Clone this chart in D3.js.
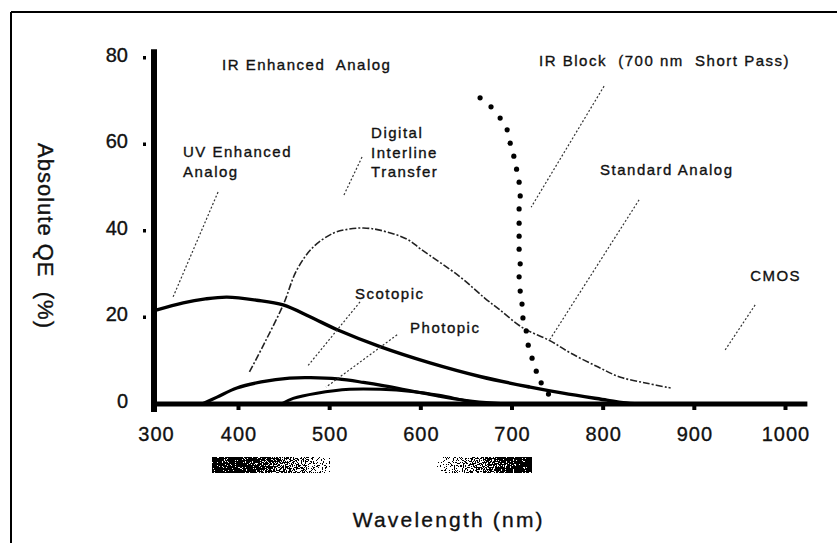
<!DOCTYPE html>
<html><head><meta charset="utf-8">
<script src="https://cdn.jsdelivr.net/npm/d3@7"></script>
<style>
body{margin:0;background:#fff}
svg{display:block}
text{font-family:"Liberation Sans",Arial,Helvetica,sans-serif;fill:#111;stroke:#111;stroke-width:0.35px}
</style>
</head><body>
<svg id="chart" width="837" height="543"></svg>
<script>
// ---------- data ----------
const xTickValues = [300, 400, 500, 600, 700, 800, 900, 1000];
const yTickValues = [0, 20, 40, 60, 80];

// UV Enhanced Analog (solid, broad)
const uvEnhanced = [[300,21.7],[333,23.4],[360,24.3],[386,24.7],[420,24.0],[449,22.9],[479,20.1],[509,17.1],[556,13.2],[610,9.5],[666,6.3],[720,3.9],[756,2.5],[804,0.9],[822,0.3],[840,0]];
// Digital Interline Transfer / Standard Analog (dash-dot hump)
const dashedHump = [[412,7.4],[429,14.3],[449,22.9],[464,31.0],[482,36.3],[504,39.5],[520,40.4],[537,40.7],[555,40.2],[585,38.1],[600,35.8],[643,29.4],[670,24.5],[687,21.7],[712,17.6],[742,14.6],[764,11.8],[794,8.6],[819,6.2],[848,4.8],[874,3.7]];
// Scotopic (solid small hump)
const scotopic = [[356,0],[374,1.6],[398,3.7],[425,5.1],[456,6.0],[479,6.1],[509,5.8],[537,5.0],[560,4.2],[590,3.0],[620,1.8],[650,0.8],[680,0.2],[700,0]];
// Photopic (solid smaller hump)
const photopic = [[447,0],[460,1.3],[486,2.5],[522,3.4],[556,3.4],[590,2.9],[620,2.0],[646,0.9],[668,0]];
// IR Block (700 nm short pass) dotted curve
const irBlock = [[665,70.8],[677,68.7],[687,66.1],[694.7,63.4],[698,60.3],[702,57.3],[705,54.3],[707.8,51.3],[709,48.1],[707.8,45.1],[707.8,41.8],[707.8,38.8],[707.8,35.8],[709,32.4],[707.8,29.4],[709,26.1],[711,23.1],[712,19.9],[715.6,16.9],[717.8,13.6],[722,10.6],[726.6,7.6],[732,4.9],[740,2.3]];

// annotation labels (anchor in wavelength / QE units)
const labels = [
  {lines:["IR Enhanced  Analog"], w:380, q:77.2},
  {lines:["UV Enhanced","Analog"], w:332.7, q:57.1},
  {lines:["Digital","Interline","Transfer"], w:545.4, q:61.5},
  {lines:["IR Block  (700 nm  Short Pass)"], w:729.7, q:78.2},
  {lines:["Standard Analog"], w:796.6, q:52.9},
  {lines:["CMOS"], w:961.2, q:28.4},
  {lines:["Scotopic"], w:527.8, q:24.3},
  {lines:["Photopic"], w:588.2, q:16.4}
];
// leader lines [w1,q1,w2,q2]
const leaders = [
  [375.2,49.0,320.6,24.7],
  [535.5,57.1,514.7,47.9],
  [801,73.5,721,45.5],
  [839.4,47.2,741.8,15.0],
  [966.7,22.9,933.8,12.5],
  [533.3,23.6,475.2,8.6],
  [574,16.0,496,3.9]
];
// spectral bands under axis [start,end] nm
const bands = [[368,500],[618,721]];

// ---------- scales ----------
const svg = d3.select("#chart");
const x = d3.scaleLinear().domain([300,400,1000]).range([156,238.5,785.5]);
const y = d3.scaleLinear().domain([0,80]).range([404,58]);

// frame
svg.append("line").attr("x1",11).attr("x2",11).attr("y1",12).attr("y2",543).attr("stroke","#000").attr("stroke-width",2);
svg.append("line").attr("x1",11).attr("x2",837).attr("y1",12).attr("y2",12).attr("stroke","#000").attr("stroke-width",2);

// gradients + dithering for bands
const defs = svg.append("defs");
const g1 = defs.append("linearGradient").attr("id","band0");
[[0,"#080808"],[0.3,"#222"],[0.55,"#555"],[0.8,"#999"],[1,"#e0e0e0"]].forEach(s=>g1.append("stop").attr("offset",s[0]).attr("stop-color",s[1]));
const g2 = defs.append("linearGradient").attr("id","band1");
[[0,"#e8e8e8"],[0.25,"#aaa"],[0.5,"#666"],[0.75,"#2a2a2a"],[1,"#050505"]].forEach(s=>g2.append("stop").attr("offset",s[0]).attr("stop-color",s[1]));
const f = defs.append("filter").attr("id","dither").attr("x",0).attr("y",0).attr("width","100%").attr("height","100%")
  .attr("color-interpolation-filters","sRGB");
f.append("feTurbulence").attr("type","fractalNoise").attr("baseFrequency",0.9).attr("numOctaves",2).attr("seed",4).attr("result","noise");
f.append("feColorMatrix").attr("in","noise").attr("type","matrix")
  .attr("values","1 0 0 0 0  1 0 0 0 0  1 0 0 0 0  0 0 0 0 1").attr("result","ng");
f.append("feComposite").attr("in","SourceGraphic").attr("in2","ng").attr("operator","arithmetic")
  .attr("k1",0).attr("k2",1).attr("k3",2.8).attr("k4",-1.4).attr("result","sum");
const ct = f.append("feComponentTransfer").attr("in","sum");
["feFuncR","feFuncG","feFuncB"].forEach(n=>ct.append(n).attr("type","discrete").attr("tableValues","0 1"));

svg.selectAll("rect.band").data(bands).join("rect").attr("class","band")
  .attr("x",d=>x(d[0])).attr("width",d=>x(d[1])-x(d[0]))
  .attr("y",y(0)+53).attr("height",16)
  .attr("fill",(d,i)=>`url(#band${i})`).attr("filter","url(#dither)");

// axes lines
svg.append("line").attr("x1",x(300)-2).attr("x2",x(300)-2).attr("y1",y(82)).attr("y2",y(0)+8)
  .attr("stroke","#000").attr("stroke-width",6);
svg.append("line").attr("x1",x(300)).attr("x2",x(1024)).attr("y1",y(0)).attr("y2",y(0))
  .attr("stroke","#000").attr("stroke-width",5);

// x axis labels
const xAxis = svg.append("g").attr("transform",`translate(0,${y(0)})`)
  .call(d3.axisBottom(x).tickValues(xTickValues).tickSize(0).tickPadding(23).tickFormat(d3.format("d")));
xAxis.select(".domain").remove();
xAxis.selectAll("text").attr("font-size",20).attr("letter-spacing",1).attr("fill","#111")
  .style("font-family",'"Liberation Sans",Arial,sans-serif');
// x tick dots
svg.selectAll("rect.xt").data(xTickValues.slice(1)).join("rect").attr("class","xt")
  .attr("x",d=>x(d)-2).attr("y",y(0)+2).attr("width",4).attr("height",4).attr("fill","#000");

// y axis labels
const yAxis = svg.append("g").attr("transform",`translate(${x(300)},0)`)
  .call(d3.axisLeft(y).tickValues(yTickValues).tickSize(0).tickPadding(28));
yAxis.select(".domain").remove();
yAxis.selectAll("text").attr("font-size",20).attr("dy","0.15em").attr("fill","#111")
  .style("font-family",'"Liberation Sans",Arial,sans-serif');
// y tick dots
svg.selectAll("rect.yt").data(yTickValues.slice(1)).join("rect").attr("class","yt")
  .attr("x",x(300)-13).attr("y",d=>y(d)-2).attr("width",3).attr("height",3.5).attr("fill","#000");

// curves
const line = d3.line().x(d=>x(d[0])).y(d=>y(d[1])).curve(d3.curveCatmullRom.alpha(0.5));
svg.append("path").datum(dashedHump).attr("d",line).attr("fill","none")
  .attr("stroke","#222").attr("stroke-width",1.6).attr("stroke-dasharray","7,2,2,2");
svg.append("path").datum(photopic).attr("d",line).attr("fill","none")
  .attr("stroke","#000").attr("stroke-width",3);
svg.append("path").datum(scotopic).attr("d",line).attr("fill","none")
  .attr("stroke","#000").attr("stroke-width",3.2);
svg.append("path").datum(uvEnhanced).attr("d",line).attr("fill","none")
  .attr("stroke","#000").attr("stroke-width",3.4);

// IR block dots
svg.selectAll("circle.ir").data(irBlock).join("circle").attr("class","ir")
  .attr("cx",d=>x(d[0])).attr("cy",d=>y(d[1])).attr("r",2.6).attr("fill","#000");

// leader lines
svg.selectAll("line.leader").data(leaders).join("line").attr("class","leader")
  .attr("x1",d=>x(d[0])).attr("y1",d=>y(d[1])).attr("x2",d=>x(d[2])).attr("y2",d=>y(d[3]))
  .attr("stroke","#333").attr("stroke-width",1.2).attr("stroke-dasharray","2,2");

// annotation labels
labels.forEach(l=>{
  const t = svg.append("text").attr("x",x(l.w)).attr("y",y(l.q))
    .attr("font-size",15).attr("letter-spacing",1.5).style("white-space","pre");
  l.lines.forEach((s,i)=>t.append("tspan").attr("x",x(l.w)).attr("dy",i===0?0:19.5).text(s));
});

// axis titles
svg.append("text").attr("x",(x(300)+x(1000))/2-22).attr("y",y(0)+123)
  .attr("text-anchor","middle").attr("font-size",21).attr("letter-spacing",2.2)
  .text("Wavelength (nm)");
svg.append("text").attr("transform",`translate(38,236) rotate(90)`)
  .attr("text-anchor","middle").attr("font-size",22).attr("letter-spacing",1)
  .style("white-space","pre").text("Absolute QE  (%)");
</script>
</body></html>
